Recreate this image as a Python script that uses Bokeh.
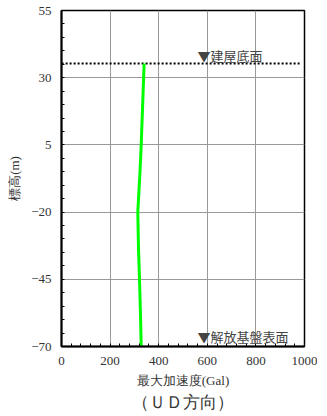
from bokeh.plotting import figure
from bokeh.models import Range1d, FixedTicker, Title, Label
from bokeh.embed import file_html
from bokeh.resources import INLINE

# data
elevation = [35.3, 30, 20, 10, 5, -5, -15, -20, -34, -45, -58, -70]
max_acc = [340, 338, 334, 330, 328, 323, 317, 314, 317, 321, 325, 328]
x_ticks = [0, 200, 400, 600, 800, 1000]
y_ticks = [-70, -45, -20, 5, 30, 55]
building_base = 35.3
base_x = [-16, 982]
marker_x = 560
bedrock = -70

SERIF = "Liberation Serif"
CJK = "Noto Sans CJK JP"

p = figure(width=317, height=412, output_backend="svg", toolbar_location=None,
           x_range=Range1d(0, 1000), y_range=Range1d(-70, 55),
           min_border_left=61, min_border_right=13, min_border_top=10, min_border_bottom=66)
p.background_fill_color = "white"
p.border_fill_color = "white"
p.outline_line_color = "black"
p.outline_line_width = 1.5

for ax, ticks, minor in ((p.xaxis[0], x_ticks, list(range(0, 1001, 40))),
                         (p.yaxis[0], y_ticks, list(range(-70, 56, 5)))):
    ax.ticker = FixedTicker(ticks=ticks, minor_ticks=minor)
    ax.axis_line_width = 2
    ax.axis_line_color = "black"
    ax.major_tick_in = 0
    ax.major_tick_out = 0
    ax.minor_tick_in = 3
    ax.minor_tick_out = 0
    ax.minor_tick_line_color = "black"
    ax.major_label_text_font = SERIF
    ax.major_label_text_font_size = "13px"
    ax.major_label_text_color = "#333333"
    ax.axis_label_text_font = SERIF
    ax.axis_label_text_font_style = "normal"
    ax.axis_label_text_color = "#333333"
    ax.axis_label_text_font_size = "13px"

p.yaxis[0].major_label_overrides = {t: str(t).replace("-", "\u2212") for t in y_ticks}
p.yaxis[0].major_label_standoff = 10
p.xaxis[0].major_label_standoff = 10
p.xaxis[0].axis_label = "最大加速度(Gal)"
p.yaxis[0].axis_label = "標高(m)"
p.xaxis[0].axis_label_standoff = 5
p.yaxis[0].axis_label_standoff = 6

p.xgrid.grid_line_color = "#999999"
p.ygrid.grid_line_color = "#999999"
p.xgrid.grid_line_width = 1
p.ygrid.grid_line_width = 1

p.line(base_x, [building_base, building_base], line_color="black", line_width=2, line_dash="2 2")
p.line(max_acc, elevation, line_color="#00FF00", line_width=3)

p.add_layout(Label(x=marker_x, y=building_base, text="▼建屋底面", text_font=CJK,
                   text_font_size="13px", text_color="#444444", text_baseline="bottom", y_offset=-2))
p.add_layout(Label(x=marker_x, y=bedrock, text="▼解放基盤表面", text_font=CJK,
                   text_font_size="13px", text_color="#444444", text_baseline="bottom", y_offset=1))

p.add_layout(Title(text="（ＵＤ方向）", align="center", text_font=SERIF, text_font_size="17px",
                   text_font_style="normal", text_color="#333333", standoff=0), "below")

open("out.html", "w").write(file_html(p, INLINE))
